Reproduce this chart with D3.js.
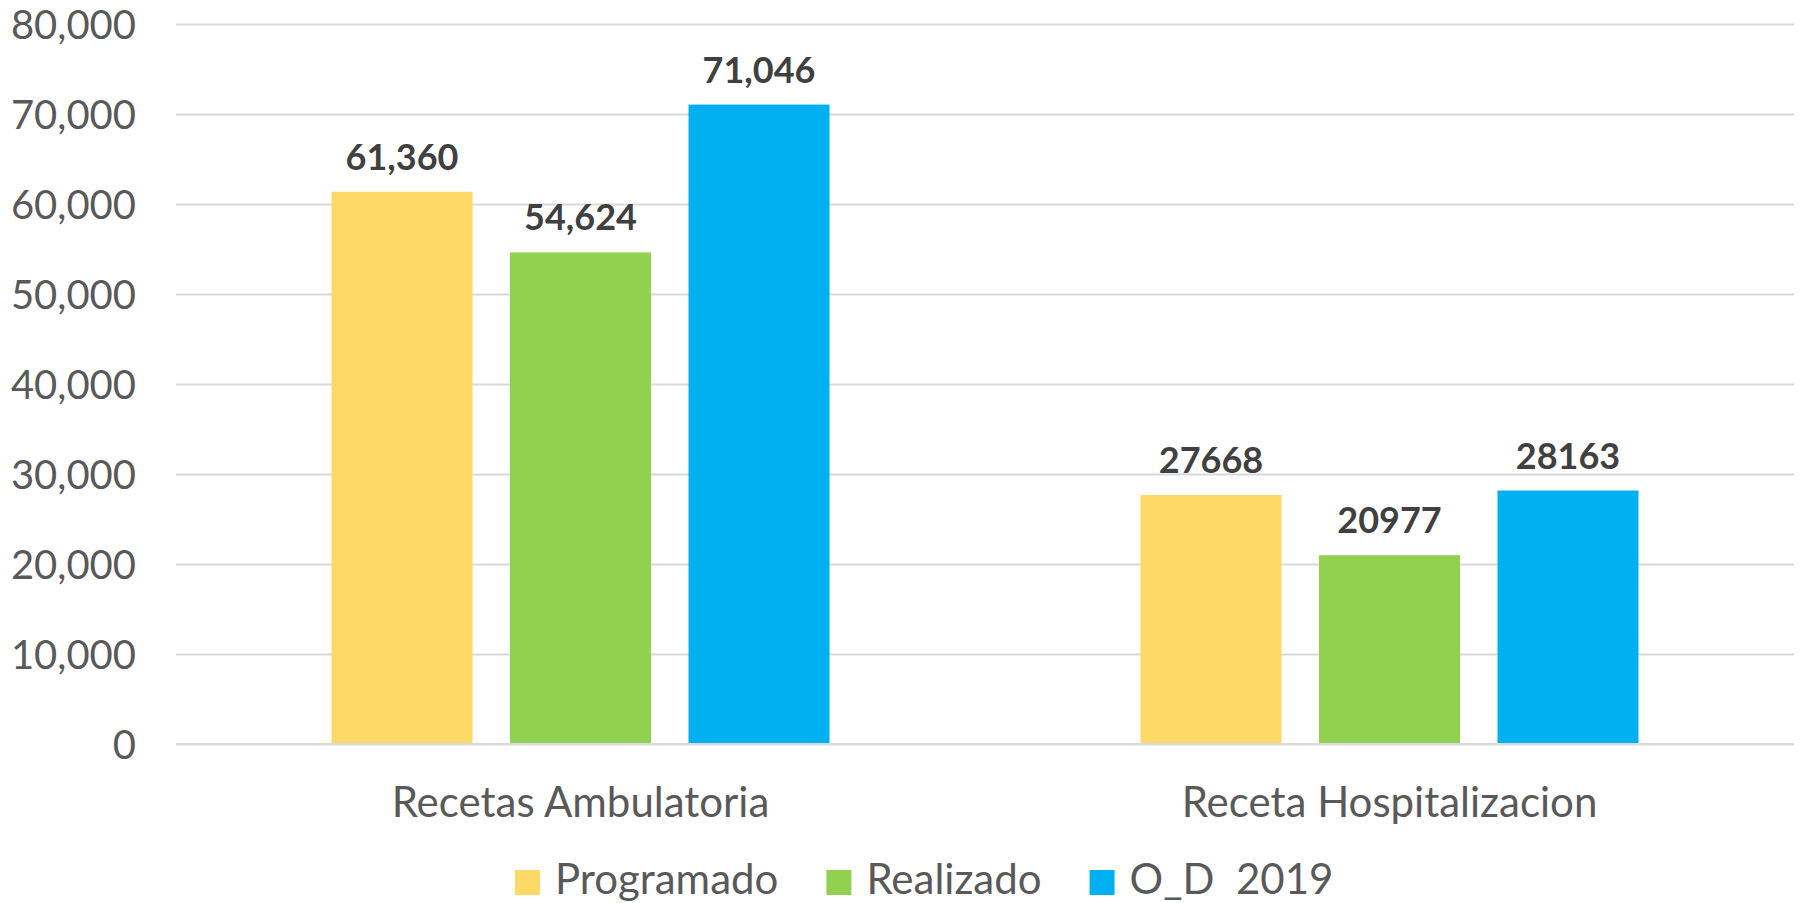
<!DOCTYPE html>
<html>
<head>
<meta charset="utf-8">
<script src="https://cdn.jsdelivr.net/npm/d3@7"></script>
<style>
  html, body { margin: 0; padding: 0; background: #fff; }
  svg text { font-family: Lato, "Open Sans", sans-serif; }
</style>
</head>
<body>
<svg id="canvas" width="1808" height="903"></svg>
<script>
// data
var categories = ['Recetas Ambulatoria', 'Receta Hospitalizacion'];
var seriesNames = ['Programado', 'Realizado', 'O_D  2019'];
var seriesColors = ['#FFD966', '#92D050', '#00B0F0'];
var programado = [61360, 27668];
var realizado = [54624, 20977];
var od2019 = [71046, 28163];
var valueLabels = [['61,360', '54,624', '71,046'], ['27668', '20977', '28163']];
var yTicks = [0, 10000, 20000, 30000, 40000, 50000, 60000, 70000, 80000];

var series = [programado, realizado, od2019];

// ************************************************************************************** //
// Layout

var chart = {};
chart.left = 176, chart.right = 1794, chart.top = 24, chart.bottom = 744;

chart.svg = d3.select('#canvas');

chart.x = d3.scaleBand().domain(categories).range([chart.left, chart.right]).paddingInner(0).paddingOuter(0);
chart.y = d3.scaleLinear().domain([0, 80000]).range([chart.bottom, chart.top]);

// bars are 141px wide with 37.5px gaps inside a 809px band
chart.inner = d3.scaleBand().domain(d3.range(series.length))
  .range([0, chart.x.bandwidth()]).paddingInner(37.5 / 178.5)
  .paddingOuter((809 - 3 * 141 - 2 * 37.5) / 2 / 178.5);

// ************************************************************************************** //
// Gridlines and y axis

var yAxis = d3.axisLeft(chart.y).tickValues(yTicks)
  .tickFormat(d3.format(',')).tickSize(-(chart.right - chart.left)).tickPadding(40);

chart.yAxisG = chart.svg.append('g').attr('transform', 'translate(' + chart.left + ',0)').call(yAxis);
chart.yAxisG.select('.domain').remove();
chart.yAxisG.selectAll('.tick line').attr('stroke', '#D9D9D9').attr('stroke-width', 2);
chart.yAxisG.selectAll('.tick text')
  .attr('fill', '#595959').attr('font-size', 40).attr('font-family', 'Lato').attr('dy', '0.36em');

// ************************************************************************************** //
// Bars

var groups = chart.svg.selectAll('.cat').data(categories).enter().append('g')
  .attr('class', 'cat')
  .attr('transform', function(d){ return 'translate(' + chart.x(d) + ',0)'; });

groups.each(function(cat, ci){
  var g = d3.select(this);
  series.forEach(function(s, si){
    g.append('rect')
      .attr('x', chart.inner(si))
      .attr('width', chart.inner.bandwidth())
      .attr('y', chart.y(s[ci]))
      .attr('height', chart.y(0) - chart.y(s[ci]))
      .attr('fill', seriesColors[si]);
    g.append('text')
      .attr('x', chart.inner(si) + chart.inner.bandwidth() / 2)
      .attr('y', chart.y(s[ci]) - 22)
      .attr('text-anchor', 'middle')
      .attr('font-size', 36).attr('font-weight', 'bold')
      .attr('fill', '#404040')
      .text(valueLabels[ci][si]);
  });
});

// redraw baseline over bars
chart.svg.append('line')
  .attr('x1', chart.left).attr('x2', chart.right)
  .attr('y1', chart.y(0)).attr('y2', chart.y(0))
  .attr('stroke', '#D9D9D9').attr('stroke-width', 2);

// category labels
chart.svg.selectAll('.catLabel').data(categories).enter().append('text')
  .attr('x', function(d){ return chart.x(d) + chart.x.bandwidth() / 2; })
  .attr('y', 817)
  .attr('text-anchor', 'middle')
  .attr('font-size', 42).attr('fill', '#595959')
  .text(function(d){ return d; });

// ************************************************************************************** //
// Legend

var legend = chart.svg.append('g');
var lx = 515;
seriesNames.forEach(function(name, i){
  legend.append('rect').attr('x', lx).attr('y', 870).attr('width', 25).attr('height', 25)
    .attr('fill', seriesColors[i]);
  var t = legend.append('text').attr('x', lx + 40).attr('y', 894)
    .attr('font-size', 42).attr('fill', '#595959')
    .style('white-space', 'pre')
    .text(name);
  lx += 40 + t.node().getComputedTextLength() + 48;
});
</script>
</body>
</html>
